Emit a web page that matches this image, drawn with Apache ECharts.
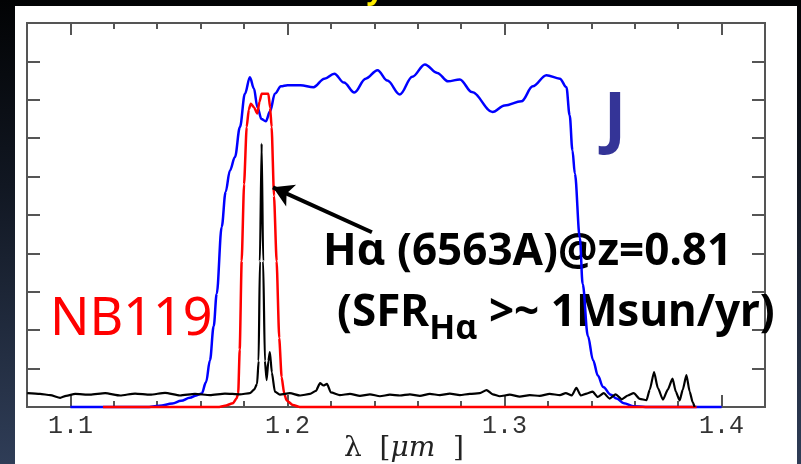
<!DOCTYPE html>
<html>
<head>
<meta charset="utf-8">
<script src="https://cdn.jsdelivr.net/npm/echarts@6/dist/echarts.min.js"></script>
<style>
html, body { margin: 0; padding: 0; }
body {
    width: 801px; height: 464px; position: relative; overflow: hidden;
    background: linear-gradient(to bottom, #020304 0%, #111722 40%, #2f3d57 100%);
}
.paper { position: absolute; left: 15px; top: 6px; width: 782px; height: 458px; background: #fff; }
#chart { position: absolute; left: 0; top: 0; width: 801px; height: 464px; }
</style>
</head>
<body>
<div class="paper"></div>
<div id="chart"></div>
<script>
// wavelength [um], transmission (arbitrary 0-100)
const jFilter = [
    [1.100, 0], [1.135, 0], [1.141, 0.3], [1.147, 0.9], [1.151, 1.6], [1.155, 2.4], [1.158, 3.0],
    [1.1605, 3.5], [1.1625, 6.5], [1.1643, 12.2], [1.1660, 21], [1.1674, 29.5], [1.1697, 46.9],
    [1.1715, 56], [1.1735, 61.6], [1.1758, 65.1], [1.1781, 72.9], [1.1804, 81.6], [1.1827, 85.9],
    [1.1845, 83], [1.1862, 78], [1.1880, 75], [1.1900, 74.4], [1.1920, 77], [1.1942, 81.6],
    [1.1970, 83.5], [1.2000, 83.8], [1.2060, 83.8], [1.2120, 83.3], [1.2170, 85.5], [1.2216, 86.8],
    [1.2260, 84.5], [1.2308, 81.9], [1.2360, 85.5], [1.2415, 87.7], [1.2460, 85], [1.2518, 81.4],
    [1.2575, 86], [1.2633, 89.2], [1.2690, 87], [1.2740, 84.8], [1.2794, 85.3], [1.2850, 82],
    [1.2945, 76.8], [1.3000, 78.5], [1.3078, 79.6], [1.3130, 83.5], [1.3193, 86.4], [1.3255, 85.5],
    [1.3285, 83.3], [1.3300, 76], [1.3313, 66.8], [1.3324, 60.8], [1.3347, 44], [1.3360, 32],
    [1.3384, 18.5], [1.3408, 12.2], [1.3430, 8.2], [1.3454, 5.2], [1.3490, 3.2], [1.3516, 2.2],
    [1.3550, 1.0], [1.3592, 0.2], [1.3650, 0], [1.4000, 0]
];
const nbFilter = [
    [1.115, 0], [1.168, 0], [1.1712, 0.3], [1.1749, 1.0], [1.1765, 2.2], [1.1773, 3.5],
    [1.1780, 15], [1.1789, 38], [1.1800, 58], [1.1812, 72.9], [1.1822, 77.5], [1.1831, 79],
    [1.1846, 78], [1.1861, 76.4], [1.1871, 79.5], [1.1881, 81.6], [1.1912, 81.6], [1.1920, 78],
    [1.1927, 72.9], [1.1938, 55], [1.1950, 38], [1.1962, 18], [1.1973, 7.8], [1.1985, 3.5],
    [1.1996, 1.7], [1.2025, 0.5], [1.2057, 0], [1.3885, 0]
];
const spectrum = [
    [1.0801, 3.6], [1.0860, 3.4], [1.0907, 3.1], [1.0953, 2.4], [1.0980, 2.9], [1.1022, 3.4],
    [1.1091, 3.2], [1.1160, 3.6], [1.1229, 3.0], [1.1298, 3.5], [1.1367, 3.2], [1.1436, 3.7],
    [1.1505, 3.0], [1.1574, 3.4], [1.1643, 3.1], [1.1712, 3.5], [1.1781, 3.3], [1.1827, 3.6],
    [1.1846, 4.5], [1.1860, 6], [1.1867, 12], [1.1873, 38], [1.1881, 68.6], [1.1888, 38],
    [1.1896, 12], [1.1904, 7], [1.1912, 12], [1.1919, 14.3], [1.1928, 9], [1.1942, 4],
    [1.1965, 3.2], [1.2011, 3.6], [1.2058, 3.0], [1.2104, 3.4], [1.2131, 4.2], [1.2150, 6.2],
    [1.2166, 5.6], [1.2182, 6.0], [1.2200, 3.8], [1.2241, 3.1], [1.2288, 3.4], [1.2334, 2.9],
    [1.2380, 3.3], [1.2426, 2.8], [1.2472, 3.2], [1.2518, 3.0], [1.2564, 3.3], [1.2610, 2.9],
    [1.2656, 3.4], [1.2702, 3.1], [1.2748, 3.5], [1.2794, 3.1], [1.2840, 3.4], [1.2886, 3.6],
    [1.2917, 4.4], [1.2946, 3.3], [1.2978, 2.8], [1.3024, 3.2], [1.3070, 2.7], [1.3116, 3.1],
    [1.3162, 2.9], [1.3208, 3.4], [1.3255, 3.1], [1.3282, 3.6], [1.3310, 3.0], [1.3331, 5.0],
    [1.3351, 3.0], [1.3379, 3.5], [1.3406, 4.0], [1.3429, 2.6], [1.3457, 3.6], [1.3484, 2.2],
    [1.3512, 3.3], [1.3540, 2.0], [1.3568, 3.0], [1.3595, 3.6], [1.3623, 2.1], [1.3654, 1.8],
    [1.3669, 4.5], [1.3689, 9.1], [1.3706, 5], [1.3730, 1.9], [1.3752, 4.5], [1.3774, 7.4],
    [1.3789, 4], [1.3807, 1.7], [1.3821, 4.5], [1.3838, 8.3], [1.3853, 4], [1.3867, 1.2],
    [1.3876, 0]
];
const majorTicks = [1.1, 1.2, 1.3, 1.4];
const minorTicks = [1.12, 1.14, 1.16, 1.18, 1.22, 1.24, 1.26, 1.28, 1.32, 1.34, 1.36, 1.38];
// arrow from the label to the H-alpha line: [tail], [head]
const arrowTail = [1.2389, 45.5];
const arrowHead = [1.1933, 57.2];

const frameColor = '#555';
const comic = "'Comic Sans MS', 'Noto Sans', sans-serif";

function xAxisCfg(position, ticks, len, withLabels){
    return {
        type: 'value',
        position: position,
        min: 1.08,
        max: 1.42,
        axisLine: { show: true, onZero: false, lineStyle: { color: frameColor, width: 2 } },
        axisTick: { show: true, inside: true, length: len, customValues: ticks,
            lineStyle: { color: frameColor, width: 2 } },
        axisLabel: withLabels ? {
            show: true, customValues: ticks, margin: 7,
            fontFamily: 'Liberation Mono', fontSize: 25, color: '#333',
            formatter: v => v.toFixed(1)
        } : { show: false },
        splitLine: { show: false },
    }
}
function yAxisCfg(position){
    return {
        type: 'value',
        position: position,
        min: 0,
        max: 100,
        interval: 10,
        axisLine: { show: true, lineStyle: { color: frameColor, width: 2 } },
        axisTick: { show: true, inside: true, length: 13, lineStyle: { color: frameColor, width: 2 } },
        axisLabel: { show: false },
        splitLine: { show: false },
    }
}

const chart = echarts.init(document.getElementById('chart'));
chart.setOption({
    animation: false,
    grid: { left: 27, right: 36, top: 23, bottom: 57 },
    xAxis: [
        xAxisCfg('bottom', majorTicks, 12, true),
        xAxisCfg('bottom', minorTicks, 6, false),
        xAxisCfg('top', majorTicks, 12, false),
        xAxisCfg('top', minorTicks, 6, false),
    ],
    yAxis: [yAxisCfg('left'), yAxisCfg('right')],
    series: [
        {
            name: 'J', type: 'line', data: jFilter, showSymbol: false, smooth: 0.35,
            smoothMonotone: 'x', clip: false,
            lineStyle: { color: '#0000ff', width: 2.5 },
        },
        {
            name: 'NB119', type: 'line', data: nbFilter, showSymbol: false, smooth: 0.2,
            smoothMonotone: 'x', clip: false,
            lineStyle: { color: '#ff0000', width: 2.5 },
        },
        {
            name: 'spectrum', type: 'line', data: spectrum, showSymbol: false, smooth: 0.2,
            smoothMonotone: 'x', clip: false,
            lineStyle: { color: '#000', width: 2.2 },
            markLine: {
                silent: true,
                symbol: ['none', 'arrow'],
                symbolSize: [18, 20],
                label: { show: false },
                lineStyle: { color: '#000', width: 4, type: 'solid' },
                data: [[{ coord: arrowTail }, { coord: arrowHead }]],
            },
        },
    ],
    graphic: [
        {
            type: 'text', x: 375, y: 5, z: 1,
            style: { text: 'y', fontSize: 30, fontWeight: 'bold', fontFamily: comic,
                fill: '#ffee00', align: 'center', verticalAlign: 'bottom' }
        },
        {
            type: 'text', x: 323, y: 252, z: 1,
            style: { text: 'Hα (6563A)@z=0.81', fontSize: 44, fontWeight: 'bold', fontFamily: comic,
                fill: '#000', align: 'left', verticalAlign: 'middle' }
        },
        {
            type: 'text', x: 337, y: 329, z: 1,
            style: {
                text: '{a|(SFR}{s|Hα}{a| >~ 1Msun/yr)}',
                align: 'left', verticalAlign: 'middle',
                rich: {
                    a: { fontSize: 44, fontWeight: 'bold', fontFamily: comic, fill: '#000',
                        lineHeight: 44, verticalAlign: 'top' },
                    s: { fontSize: 34, fontWeight: 'bold', fontFamily: comic, fill: '#000',
                        lineHeight: 76, verticalAlign: 'middle' },
                }
            }
        },
        {
            type: 'text', x: 50, y: 320, z: 1,
            style: { text: 'NB119', fontSize: 52, fontFamily: comic, fill: '#ff0000',
                align: 'left', verticalAlign: 'middle' }
        },
        {
            type: 'text', x: 615, y: 122, z: 1,
            style: { text: 'J', fontSize: 68, fontWeight: 'bold', fontFamily: comic, fill: '#343497',
                align: 'center', verticalAlign: 'middle' }
        },
        {
            type: 'text', x: 404, y: 449, z: 1,
            style: {
                text: '{r|λ  [}{i|μm}{r|  ]}',
                align: 'center', verticalAlign: 'middle',
                rich: {
                    r: { fontSize: 28, fontFamily: 'DejaVu Serif', fill: '#222' },
                    i: { fontSize: 28, fontFamily: 'DejaVu Serif', fontStyle: 'italic', fill: '#222' },
                }
            }
        },
    ],
});
</script>
</body>
</html>
